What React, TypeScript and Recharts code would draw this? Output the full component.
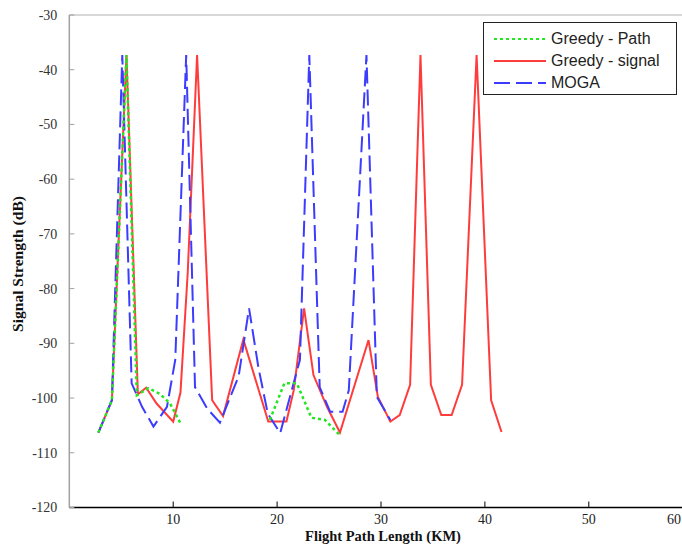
import { LineChart, Line, XAxis, YAxis, Legend, ReferenceLine, Label } from "recharts";

// Greedy - Path (gap between the two flown segments)
const pathX = [2.8, 4.1, 5.5, 6.5, 7.6, 8.7, 9.7, 10.7, 15, 19.3, 20.7, 21.9, 23.3, 24.6, 26.05];
const pathY = [-106.3, -100.4, -37.3, -99.5, -98.2, -99.2, -101, -104.6, null, -104, -97.3, -97.3, -103.6, -104, -106.8];

// Greedy - signal
const signalX = [2.8, 4.1, 5.5, 6.6, 7.4, 8.4, 10.0, 10.7, 11.4, 12.3, 13.75, 14.8, 16.75, 19.15, 20.9, 21.6, 22.6, 23.5, 24.8, 26.05, 28.8, 29.7, 30.9, 31.8, 32.8, 33.8, 34.8, 35.8, 36.8, 37.8, 39.2, 40.6, 41.6];
const signalY = [-106.3, -100.4, -37.3, -99.3, -98.1, -101, -104.3, -99, -77, -37.3, -100.4, -103.3, -89.3, -104.3, -104.3, -98.6, -83.6, -95.8, -101.6, -106.3, -89.4, -99.8, -104.3, -103.1, -97.6, -37.3, -97.6, -103.1, -103.1, -97.6, -37.3, -100.4, -106.2];

// MOGA
const mogaX = [2.8, 4.1, 5.1, 6.0, 7.0, 8.1, 9.4, 10.2, 11.25, 12.1, 13.3, 14.5, 16.3, 17.3, 18.2, 19.1, 20.3, 22.2, 23.1, 24.1, 25.1, 26.3, 26.9, 28.6, 29.6, 30.9];
const mogaY = [-106.3, -100.4, -37.3, -97.3, -101.6, -105.2, -101.6, -93, -37.3, -98, -102, -104.5, -96, -83.6, -94.4, -102.8, -106.4, -93, -37.3, -98, -102.5, -102.5, -98.6, -37.3, -99.8, -104];

const xTicks = [10, 20, 30, 40, 50, 60];
const yTicks = [-120, -110, -100, -90, -80, -70, -60, -50, -40, -30];

const toPoints = (xs: number[], ys: (number | null)[]) => xs.map((x, i) => ({ x, y: ys[i] }));

const series = [
  { name: "Greedy - Path", color: "#22e622", dash: "3 3", data: toPoints(pathX, pathY) },
  { name: "Greedy - signal", color: "#ff3c3c", dash: undefined, data: toPoints(signalX, signalY) },
  { name: "MOGA", color: "#3c3cff", dash: "16 6", data: toPoints(mogaX, mogaY) },
];

const serif = '"Liberation Serif", "Times New Roman", serif';

const renderLegend = () => (
  <div
    style={{
      border: "1px solid #222",
      background: "#fff",
      width: 194,
      height: 73,
      boxSizing: "border-box",
      padding: "5px 0 0 10px",
      fontFamily: '"Liberation Sans", Arial, sans-serif',
      fontSize: 16,
      color: "#222",
      textAlign: "left",
    }}
  >
    {series.map((s) => (
      <div key={s.name} style={{ display: "flex", alignItems: "center", height: 22 }}>
        <svg width={52} height={4}>
          <line x1={0} y1={2} x2={52} y2={2} stroke={s.color} strokeWidth={2} strokeDasharray={s.dash} />
        </svg>
        <span style={{ marginLeft: 5 }}>{s.name}</span>
      </div>
    ))}
  </div>
);

// last label sits at the right edge, keep it inside the frame
const XTick = (props: any) => {
  const { x, y, payload } = props;
  const last = payload.value === 60;
  return (
    <text
      x={last ? 681 : x}
      y={y}
      dy="0.71em"
      textAnchor={last ? "end" : "middle"}
      fill="#222"
      fontSize={14}
      fontFamily={serif}
    >
      {payload.value}
    </text>
  );
};

export default function App() {
  return (
    <div style={{ position: "absolute", left: 0, top: 0, width: 682, height: 544, overflow: "hidden", background: "#fff" }}>
      <LineChart width={700} height={544} margin={{ top: 15, right: 7.3, bottom: 0, left: 0 }}>
        <ReferenceLine y={-30} stroke="#b0b0b0" />
        <XAxis
          type="number"
          dataKey="x"
          domain={[0, 60]}
          ticks={xTicks}
          interval={0}
          height={36.5}
          axisLine={{ stroke: "#000", strokeWidth: 1.5 }}
          tickLine={{ stroke: "#000" }}
          tickSize={-6}
          tickMargin={13}
          tick={<XTick />}
        >
          <Label
            content={() => (
              <text x={383} y={541} textAnchor="middle" fontFamily={serif} fontWeight="bold" fontSize={14.5} fill="#111">
                Flight Path Length (KM)
              </text>
            )}
          />
        </XAxis>
        <YAxis
          type="number"
          domain={[-120, -30]}
          ticks={yTicks}
          interval={0}
          width={69.3}
          axisLine={{ stroke: "#a0a0a0", strokeWidth: 1.5 }}
          tickLine={{ stroke: "#a0a0a0" }}
          tickSize={-5}
          tickMargin={17}
          tick={{ fill: "#333", fontSize: 14, fontFamily: serif }}
        >
          <Label
            content={() => (
              <text
                x={23}
                y={264}
                transform="rotate(-90 23 264)"
                textAnchor="middle"
                fontFamily={serif}
                fontWeight="bold"
                fontSize={15.5}
                fill="#111"
              >
                Signal Strength (dB)
              </text>
            )}
          />
        </YAxis>
        <Legend
          layout="horizontal"
          verticalAlign="middle"
          align="center"
          content={renderLegend}
          wrapperStyle={{ position: "absolute", left: 483, top: 22, width: 194, height: 73 }}
        />
        <Line
          name="Greedy - signal"
          data={series[1].data}
          dataKey="y"
          stroke={series[1].color}
          strokeWidth={2}
          dot={false}
          isAnimationActive={false}
        />
        <Line
          name="MOGA"
          data={series[2].data}
          dataKey="y"
          stroke={series[2].color}
          strokeWidth={2}
          strokeDasharray={series[2].dash}
          dot={false}
          isAnimationActive={false}
        />
        <Line
          name="Greedy - Path"
          data={series[0].data}
          dataKey="y"
          stroke={series[0].color}
          strokeWidth={2.5}
          strokeDasharray={series[0].dash}
          dot={false}
          isAnimationActive={false}
        />
      </LineChart>
    </div>
  );
}
